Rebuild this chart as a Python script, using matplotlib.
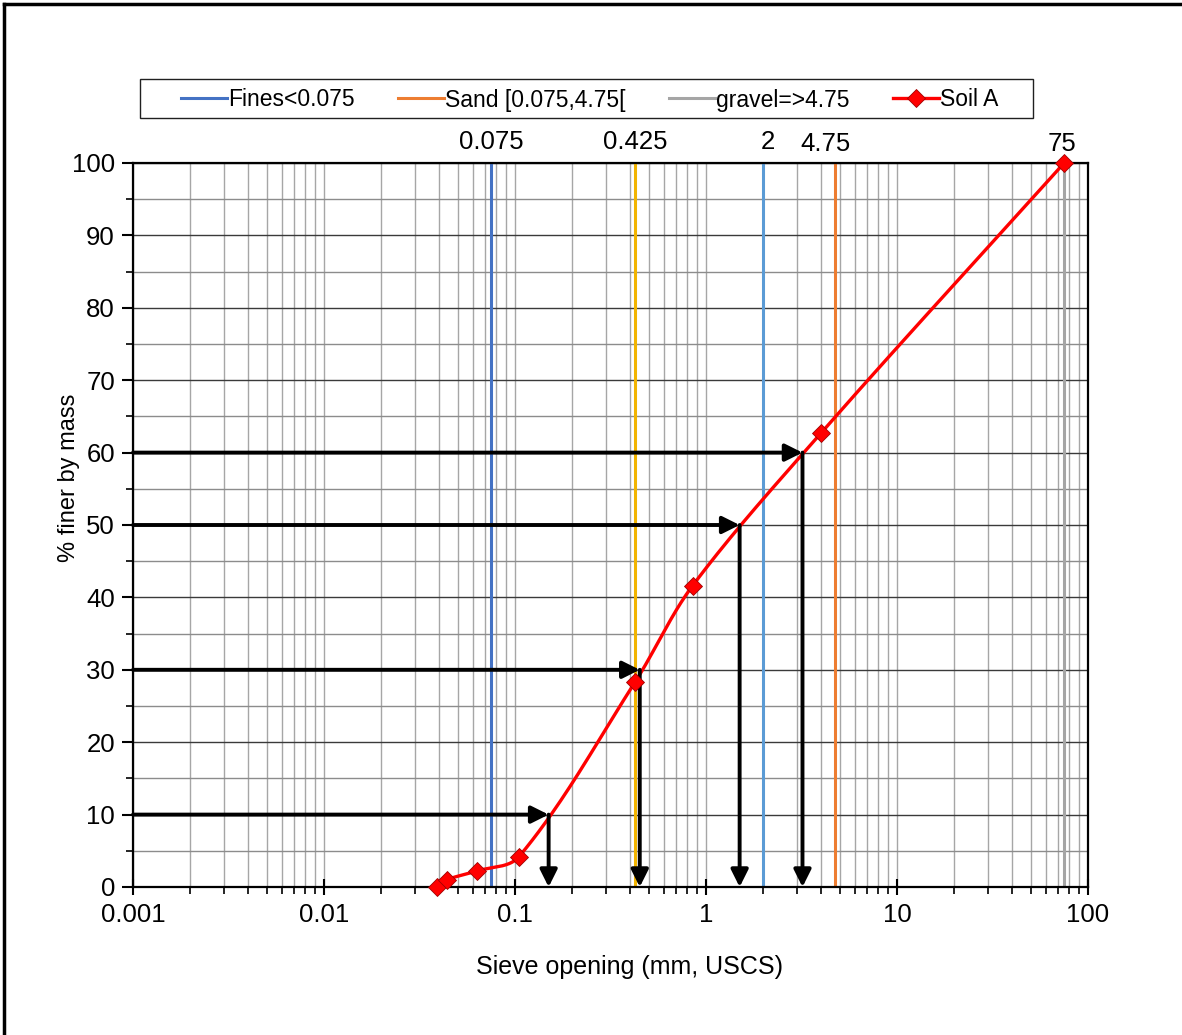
import numpy as np
import matplotlib
matplotlib.use('Agg')
import matplotlib.pyplot as plt
from matplotlib.lines import Line2D
from matplotlib.patches import Rectangle
from matplotlib.ticker import LogLocator, FixedLocator, NullFormatter

plt.rcParams['font.family'] = ['Liberation Sans', 'DejaVu Sans']

# grain size data (Soil A)
sieve_mm = [0.039, 0.044, 0.063, 0.105, 0.425, 0.85, 4.0, 75]
pct_finer = [0.0, 1.0, 2.2, 4.2, 28.3, 41.6, 62.7, 100.0]

# characteristic diameters
d_pct = [10, 30, 50, 60]
d_mm = [0.15, 0.45, 1.5, 3.2]

# reference sieve lines
ref_sizes = [0.075, 0.425, 2, 4.75, 75]
ref_labels = ['0.075', '0.425', '2', '4.75', '75']
ref_colors = ['#4472C4', '#F2B400', '#5B9BD5', '#ED7D31', '#A5A5A5']
legend_names = ['Fines<0.075', None, None, 'Sand [0.075,4.75[', 'gravel=>4.75']
label_dx = [0, 0, 4, -10, -2]   # small pixel nudges of the labels above the plot
label_y = [1.013, 1.013, 1.013, 1.009, 1.009]


def smooth_curve(xs, ys, n=40):
    # smoothed scatter line (bezier, tangent length tied to segment length)
    u = np.log10(xs) * 191.0
    v = np.array(ys) * 7.24
    P = np.column_stack([u, v])
    P = np.vstack([P[0], P, P[-1]])
    out = []
    for i in range(1, len(P) - 2):
        p0, p1, p2, p3 = P[i - 1], P[i], P[i + 1], P[i + 2]
        seg_len = np.hypot(*(p2 - p1))
        t1 = p2 - p0
        t2 = p3 - p1
        t1 = t1 / np.hypot(*t1)
        t2 = t2 / np.hypot(*t2)
        c1 = p1 + t1 * seg_len / 3.0
        c2 = p2 - t2 * seg_len / 3.0
        t = np.linspace(0, 1, n)[:, None]
        seg = ((1 - t) ** 3) * p1 + 3 * ((1 - t) ** 2) * t * c1 + 3 * (1 - t) * t ** 2 * c2 + t ** 3 * p2
        out.append(seg)
    out = np.vstack(out)
    return 10 ** (out[:, 0] / 191.0), out[:, 1] / 7.24


fig = plt.figure(figsize=(11.82, 10.35), dpi=100)
ax = fig.add_axes([133 / 1182, 1 - 887 / 1035, 955 / 1182, 724 / 1035])

ax.set_xscale('log')
ax.set_xlim(0.001, 100)
ax.set_ylim(0, 100)

# grid
ax.xaxis.set_major_locator(LogLocator(base=10))
ax.xaxis.set_minor_locator(LogLocator(base=10, subs=np.arange(2, 10)))
ax.xaxis.set_minor_formatter(NullFormatter())
ax.set_xticks([0.001, 0.01, 0.1, 1, 10, 100])
ax.set_xticklabels(['0.001', '0.01', '0.1', '1', '10', '100'])
ax.yaxis.set_major_locator(FixedLocator(np.arange(0, 101, 10)))
ax.yaxis.set_minor_locator(FixedLocator(np.arange(5, 100, 10)))

ax.grid(True, axis='x', which='both', color='#A6A6A6', lw=1.0, zorder=0)
ax.grid(True, axis='y', which='major', color='#3A3A3A', lw=1.0, zorder=0)
ax.grid(True, axis='y', which='minor', color='#8C8C8C', lw=1.0, zorder=0)

ax.tick_params(axis='y', which='major', direction='out', length=8, width=1.5, labelsize=18.5, pad=5)
ax.tick_params(axis='y', which='minor', direction='out', length=5, width=1.2)
ax.tick_params(axis='x', which='major', direction='inout', length=11, width=1.5, labelsize=18.5, pad=6)
ax.tick_params(axis='x', which='minor', direction='out', length=5, width=1.2)
for s in ax.spines.values():
    s.set_linewidth(1.6)
    s.set_color('black')

# reference lines
handles = []
for size, lab, col, name, dx, ly in zip(ref_sizes, ref_labels, ref_colors, legend_names, label_dx, label_y):
    ln, = ax.plot([size, size], [0, 100], color=col, lw=2.2, zorder=2)
    if name is not None:
        handles.append((ln, name))
    ax.annotate(lab, xy=(size, ly), xycoords=ax.get_xaxis_transform(), xytext=(dx, 0),
                textcoords='offset pixels', ha='center', va='bottom', fontsize=18.5)

# soil curve
cx, cy = smooth_curve(sieve_mm, pct_finer)
ax.plot(cx, cy, color='#FF0000', lw=2.4, zorder=4)
ax.plot(sieve_mm, pct_finer, ls='none', marker='D', ms=9, color='#FF0000',
        mec='#A00000', mew=0.6, zorder=6, clip_on=False)
soil = Line2D([], [], color='#FF0000', lw=2.4, marker='D', ms=9, mec='#A00000', mew=0.6)

# D10/D30/D50/D60 arrows
arrow_kw = dict(arrowstyle='-|>', color='black', lw=2.8, mutation_scale=26, shrinkA=0, shrinkB=0)
for p, d in zip(d_pct, d_mm):
    ax.annotate('', xy=(d, p), xytext=(0.001, p), arrowprops=arrow_kw, zorder=5)
    ax.annotate('', xy=(d, 0), xytext=(d, p), arrowprops=arrow_kw, zorder=5)

ax.set_xlabel('Sieve opening (mm, USCS)', fontsize=18)
ax.xaxis.set_label_coords(0.520, -0.094)
ax.set_ylabel('% finer by mass', fontsize=17)
ax.yaxis.set_label_coords(-0.055, 0.565)

leg_handles = [h for h, _ in handles] + [soil]
leg_names = [n for _, n in handles] + ['Soil A']
fig.legend(leg_handles, leg_names, ncol=4, loc='center', fontsize=16.5,
           bbox_to_anchor=(590 / 1182, 1 - 100 / 1035), frameon=False,
           handlelength=2.0, handletextpad=0.05, columnspacing=1.9, numpoints=1)
fig.add_artist(Rectangle((140 / 1182, 1 - 118 / 1035), 893 / 1182, 39 / 1035,
                         transform=fig.transFigure, fill=False, edgecolor='#202020', lw=1.0))

# outer chart border (top and left visible)
fig.add_artist(Line2D([4 / 1182, 4 / 1182], [0, 1 - 4 / 1035], color='black', lw=2.5,
                      transform=fig.transFigure))
fig.add_artist(Line2D([4 / 1182, 1], [1 - 4 / 1035, 1 - 4 / 1035], color='black', lw=2.5,
                      transform=fig.transFigure))

fig.savefig('out.png', dpi=100)
